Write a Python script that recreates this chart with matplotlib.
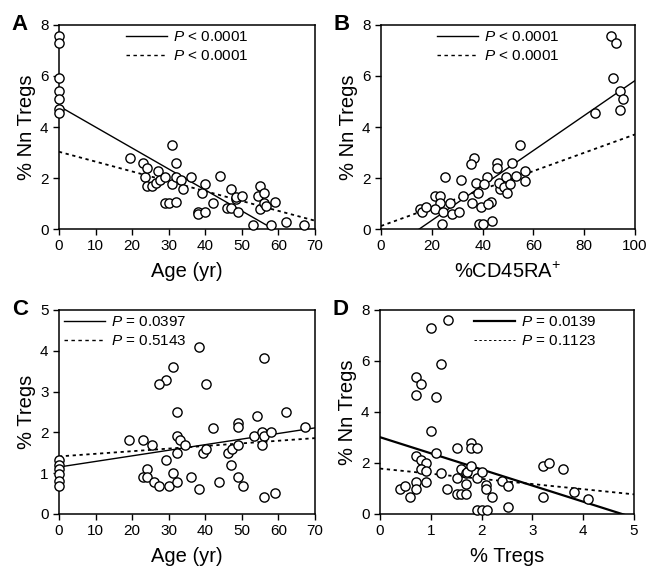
import numpy as np
import matplotlib
matplotlib.use('Agg')
import matplotlib.pyplot as plt

plt.rcParams['font.family'] = ['Liberation Sans', 'DejaVu Sans']
plt.rcParams['mathtext.fontset'] = 'custom'
plt.rcParams['mathtext.rm'] = 'Liberation Sans'
plt.rcParams['mathtext.it'] = 'Liberation Sans:italic'

###
# Data

# A: age vs % Nn Tregs
a_age = [0, 0, 0, 0, 0, 0, 0, 19.3, 23, 23.5, 24, 24, 25.5, 26.5, 27, 27.5, 29, 29, 30,
         30.8, 31, 32, 32, 32, 33.5, 34, 36, 38, 38, 39, 40, 40, 42, 44, 46, 47, 47,
         48.5, 48.5, 49, 50, 53, 54.5, 55, 55, 56, 56, 56.5, 58, 59, 62, 67]
a_nn = [7.57, 7.31, 5.91, 5.41, 5.08, 4.72, 4.55, 2.78, 2.57, 2.03, 2.4, 1.68, 1.68, 1.8,
        2.27, 1.92, 2.03, 1.02, 1.02, 3.28, 1.78, 2.57, 2.03, 1.06, 1.92, 1.56, 2.03,
        0.67, 0.58, 1.4, 1.78, 0.67, 1.02, 2.07, 0.81, 1.56, 0.81, 1.16, 1.27, 0.67,
        1.28, 0.17, 1.3, 1.68, 0.77, 1.4, 1.02, 0.92, 0.17, 1.06, 0.28, 0.17]

# B: %CD45RA+ vs % Nn Tregs
b_cd45 = [90.7, 92.5, 91.5, 94.1, 95.3, 94.0, 84.1, 54.6, 36.7, 35.4, 25.1, 31.5, 45.5,
          45.5, 51.7, 41.6, 37.5, 38.2, 40.6, 39.2, 43.4, 42.1, 43.6, 38.6, 40.0, 23.9,
          46.9, 46.5, 49.1, 48.4, 49.6, 50.7, 53.0, 56.8, 56.8, 21.4, 23.2, 23.4, 21.3,
          24.5, 27.2, 27.8, 30.6, 32.2, 35.7, 15.4, 16.3, 17.6]
b_nn = [7.57, 7.28, 5.91, 5.41, 5.08, 4.67, 4.56, 3.28, 2.8, 2.55, 2.03, 1.91, 2.57,
        2.4, 2.57, 2.03, 1.8, 1.4, 1.75, 0.88, 1.06, 0.98, 0.3, 0.18, 0.18, 0.18,
        1.56, 1.82, 2.03, 1.66, 1.4, 1.78, 2.08, 2.29, 1.9, 1.31, 1.31, 1.03, 0.77,
        0.68, 1.03, 0.59, 0.68, 1.31, 1.01, 0.77, 0.68, 0.88]

# C: age vs % Tregs
c_age = [0, 0, 0, 0, 0, 0, 38.2, 56.1, 31.1, 29.3, 27.3, 40.2, 32.3, 62, 54.1, 42.1,
         48.9, 48.9, 67.2, 19.2, 23.1, 25.4, 32.2, 33.1, 34.4, 32.4, 29.2, 39.3, 40.1,
         46.3, 47.3, 49, 53.3, 55.4, 56.1, 55.4, 58.1, 47.1, 24.2, 23.1, 24.2, 26.1,
         27.3, 30, 31.2, 32.4, 36.2, 38.2, 43.9, 49, 50.2, 56.1, 59.1]
c_tregs = [1.32, 1.2, 1.1, 0.98, 0.8, 0.68, 4.08, 3.81, 3.6, 3.29, 3.19, 3.19, 2.49,
           2.49, 2.39, 2.11, 2.22, 2.12, 2.12, 1.81, 1.81, 1.7, 1.9, 1.81, 1.7, 1.5,
           1.32, 1.49, 1.59, 1.5, 1.6, 1.7, 1.9, 2.0, 1.9, 1.68, 2.0, 1.21, 1.11, 0.9,
           0.9, 0.78, 0.69, 0.69, 1.0, 0.78, 0.9, 0.62, 0.78, 0.9, 0.69, 0.42, 0.51]

# D: % Tregs vs % Nn Tregs
d_tregs = [1.33, 1.0, 1.21, 0.70, 0.81, 0.70, 1.1, 1.01, 1.1, 0.70, 0.81, 0.91, 0.81,
           0.91, 0.91, 0.70, 0.70, 0.59, 0.39, 0.5, 1.21, 1.31, 1.51, 1.51, 1.51, 1.59,
           1.59, 1.7, 1.7, 1.7, 1.71, 1.8, 1.8, 1.9, 1.8, 1.9, 1.9, 2.0, 2.1, 2.0, 2.09,
           2.09, 2.21, 2.4, 2.51, 2.51, 3.2, 3.33, 3.6, 3.21, 3.82, 4.1]
d_nn = [7.6, 7.27, 5.88, 5.37, 5.11, 4.65, 4.59, 3.27, 2.39, 2.27, 2.13, 1.99, 1.78,
        1.67, 1.25, 1.25, 0.99, 0.67, 0.99, 1.11, 1.61, 0.99, 2.6, 1.41, 0.8, 1.78,
        0.8, 1.61, 1.19, 0.8, 1.66, 2.78, 2.6, 2.6, 1.9, 1.41, 0.16, 0.16, 0.16, 1.66,
        1.12, 0.99, 0.67, 1.28, 1.11, 0.26, 1.88, 1.99, 1.78, 0.67, 0.88, 0.6]

# regression lines (intercept, slope)
a_solid, a_dash = (4.82, -0.0822), (3.03, -0.0386)
b_solid, b_dash = (-1.03, 0.0685), (0.12, 0.0359)
c_solid, c_dash = (1.15, 0.0137), (1.41, 0.0064)
d_solid, d_dash = (3.01, -0.632), (1.78, -0.202)

a_labels = ['$\\it{P}$ < 0.0001', '$\\it{P}$ < 0.0001']
b_labels = ['$\\it{P}$ < 0.0001', '$\\it{P}$ < 0.0001']
c_labels = ['$\\it{P}$ = 0.0397', '$\\it{P}$ = 0.5143']
d_labels = ['$\\it{P}$ = 0.0139', '$\\it{P}$ = 0.1123']


fig = plt.figure(figsize=(6.48, 5.67), dpi=100)


def panel(rect, letter, x, y, solid, dash, labels, xlim, ylim, xticks, yticks,
          xlabel, ylabel, leg_anchor, solid_lw=1.0, dash_lw=1.3, leg_dash_lw=1.0):
    ax = fig.add_axes(rect)
    xx = np.array(xlim, dtype=float)
    ax.plot(xx, solid[0] + solid[1] * xx, color='black', lw=solid_lw)
    ax.plot(xx, dash[0] + dash[1] * xx, color='black', lw=dash_lw, dashes=(1.8, 2.0))
    ax.scatter(x, y, s=44, facecolors='white', edgecolors='black', linewidths=1.0,
               zorder=3, clip_on=False)
    ax.set_xlim(xlim)
    ax.set_ylim(ylim)
    ax.set_xticks(xticks)
    ax.set_yticks(yticks)
    ax.tick_params(direction='out', length=4, width=1, labelsize=11, pad=3.5,
                   top=False, right=False)
    for s in ax.spines.values():
        s.set_linewidth(1.1)
    ax.set_xlabel(xlabel, fontsize=14.5, labelpad=6)
    ax.set_ylabel(ylabel, fontsize=14.5, labelpad=3)

    # legend handles
    h1 = plt.Line2D([], [], color='black', lw=solid_lw)
    h2 = plt.Line2D([], [], color='black', lw=leg_dash_lw, dashes=(2.5, 2.5))
    ax.legend([h1, h2], labels, loc='upper left', bbox_to_anchor=leg_anchor,
              frameon=False, fontsize=11, handlelength=2.7, handletextpad=0.4,
              labelspacing=0.35, borderpad=0, borderaxespad=0)

    fig.text(rect[0] - 0.073, rect[1] + rect[3], letter, fontsize=16,
             fontweight='bold', va='center', ha='left')
    return ax


panel([0.091, 0.596, 0.395, 0.360], 'A', a_age, a_nn, a_solid, a_dash, a_labels,
      (0, 70), (0, 8), range(0, 71, 10), range(0, 9, 2), 'Age (yr)', '% Nn Tregs',
      (0.26, 0.975))
panel([0.588, 0.596, 0.392, 0.360], 'B', b_cd45, b_nn, b_solid, b_dash, b_labels,
      (0, 100), (0, 8), range(0, 101, 20), range(0, 9, 2),
      '%CD45RA$^{\\mathregular{+}}$', '% Nn Tregs', (0.22, 0.975))
panel([0.091, 0.0935, 0.395, 0.360], 'C', c_age, c_tregs, c_solid, c_dash, c_labels,
      (0, 70), (0, 5), range(0, 71, 10), range(0, 6), 'Age (yr)', '% Tregs',
      (0.02, 0.975))
panel([0.5864, 0.0935, 0.392, 0.360], 'D', d_tregs, d_nn, d_solid, d_dash, d_labels,
      (0, 5), (0, 8), range(0, 6), range(0, 9, 2), '% Tregs', '% Nn Tregs',
      (0.37, 0.975), solid_lw=1.6, dash_lw=1.3, leg_dash_lw=0.7)

fig.savefig('out.png', dpi=100)
